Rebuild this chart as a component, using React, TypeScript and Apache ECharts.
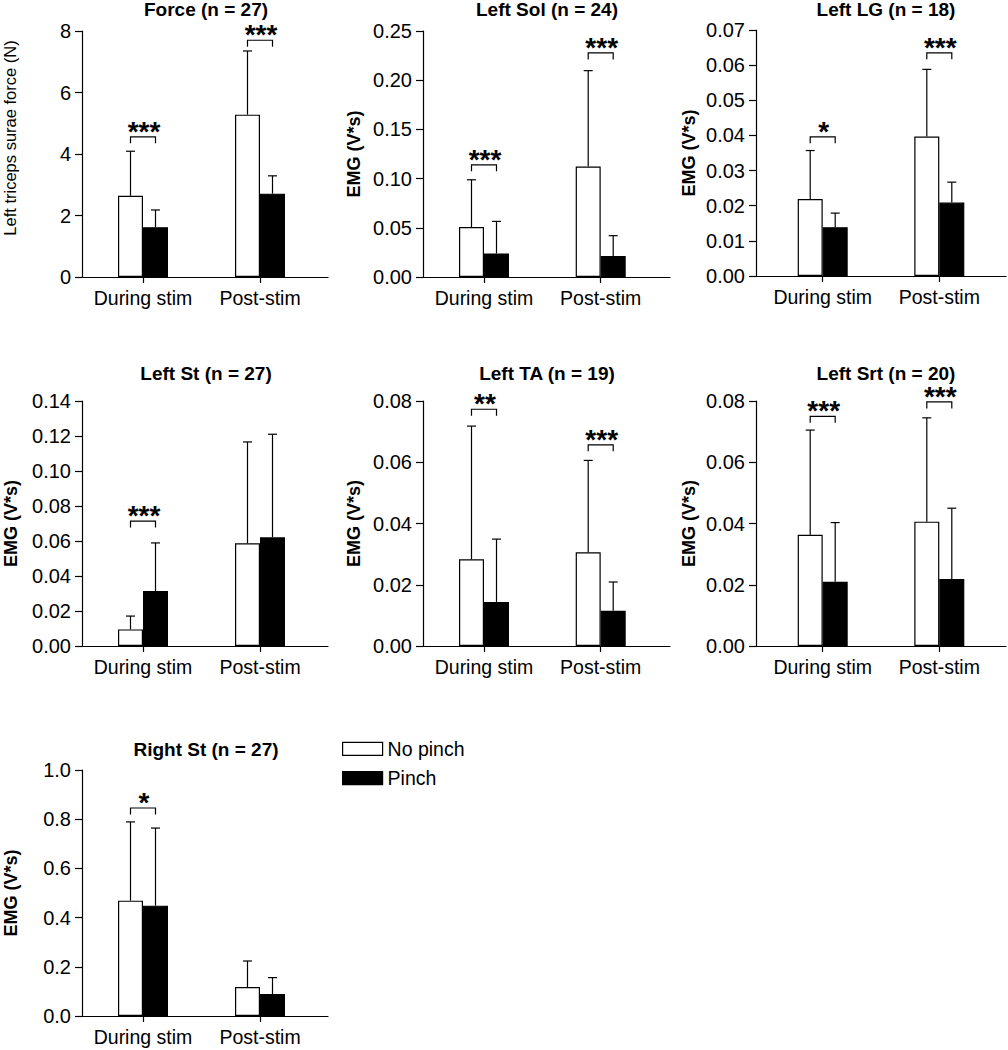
import React, { useEffect, useRef } from "react";
import * as echarts from "echarts";

const categories = ["During stim", "Post-stim"];
const seriesNames = ["No pinch", "Pinch"];

const titles = [
  "Force (n = 27)",
  "Left Sol (n = 24)",
  "Left LG (n = 18)",
  "Left St (n = 27)",
  "Left TA (n = 19)",
  "Left Srt (n = 20)",
  "Right St (n = 27)",
];
const yNames = [
  "Left triceps surae force (N)",
  "EMG (V*s)",
  "EMG (V*s)",
  "EMG (V*s)",
  "EMG (V*s)",
  "EMG (V*s)",
  "EMG (V*s)",
];
const yMax = [8, 0.25, 0.07, 0.14, 0.08, 0.08, 1.0];
const yStep = [2, 0.05, 0.01, 0.02, 0.02, 0.02, 0.2];
const yDecimals = [0, 2, 2, 2, 2, 2, 1];

// means and SD (upper error bar length) for [During stim, Post-stim]
const noPinchMean = [
  [2.64, 5.28],
  [0.0507, 0.1123],
  [0.0219, 0.0397],
  [0.0095, 0.0587],
  [0.0283, 0.0306],
  [0.0363, 0.0406],
  [0.469, 0.118],
];
const noPinchSD = [
  [1.45, 2.07],
  [0.0481, 0.0974],
  [0.0138, 0.0191],
  [0.0076, 0.0579],
  [0.0435, 0.03],
  [0.0342, 0.0339],
  [0.32, 0.1056],
];
const pinchMean = [
  [1.62, 2.71],
  [0.024, 0.0213],
  [0.0139, 0.0209],
  [0.0314, 0.0621],
  [0.0144, 0.0115],
  [0.021, 0.0219],
  [0.4485, 0.0894],
];
const pinchSD = [
  [0.56, 0.58],
  [0.0325, 0.0207],
  [0.004, 0.0058],
  [0.0275, 0.0589],
  [0.0205, 0.0094],
  [0.0193, 0.0231],
  [0.3155, 0.0666],
];
// significance bracket heights and labels
const sigLevel = [
  [4.56, 7.7],
  [0.114, 0.2277],
  [0.0396, 0.0635],
  [0.0714, null],
  [0.0773, 0.0657],
  [0.075, 0.0797],
  [0.8455, null],
];
const sigStars = [
  ["***", "***"],
  ["***", "***"],
  ["*", "***"],
  ["***", ""],
  ["**", "***"],
  ["***", "***"],
  ["*", ""],
];

// layout (pixels)
const layout = [
  { axisX: 82, c1: 143, c2: 260, endX: 328, top: 31, bottom: 277, gap: 64, shift: 32, tx: 206, ty: 9.5 },
  { axisX: 423, c1: 484, c2: 600.7, endX: 670, top: 31, bottom: 277, gap: 60, shift: 0, tx: 547, ty: 9.5 },
  { axisX: 756, c1: 822.7, c2: 939.3, endX: 1006, top: 30, bottom: 276, gap: 58, shift: 0, tx: 886, ty: 9.5 },
  { axisX: 82, c1: 143, c2: 260, endX: 328, top: 401, bottom: 646, gap: 62.5, shift: 0, tx: 206, ty: 373.5 },
  { axisX: 423, c1: 484, c2: 600.7, endX: 670, top: 401, bottom: 646, gap: 60, shift: 0, tx: 547, ty: 373.5 },
  { axisX: 756, c1: 822.7, c2: 939.3, endX: 1006, top: 401, bottom: 646, gap: 58.5, shift: 0, tx: 886, ty: 373.5 },
  { axisX: 82, c1: 143, c2: 260, endX: 328, top: 770, bottom: 1016, gap: 62.5, shift: 0, tx: 206, ty: 749 },
];

const FONT = "'Liberation Sans', Arial, Helvetica, sans-serif";
const BAR_W = 25;
const LW = 1.2;
const INK = "#000";

function buildOption() {
  const grid: any[] = [];
  const xAxis: any[] = [];
  const yAxis: any[] = [];
  const series: any[] = [];
  const title: any[] = [];

  layout.forEach((L, i) => {
    const band = L.c2 - L.c1;
    const gA = grid.length;
    grid.push({ left: L.axisX, top: L.top, width: L.endX - L.axisX, height: L.bottom - L.top });
    const gB = grid.length;
    grid.push({ left: L.c1 - band / 2, top: L.top, width: band * 2, height: L.bottom - L.top });

    const dec = yDecimals[i];
    const isForce = i === 0;
    // outer frame axes
    xAxis.push({
      gridIndex: gA,
      type: "category",
      data: categories,
      axisLine: { show: true, lineStyle: { color: INK, width: LW } },
      axisTick: { show: false },
      axisLabel: { show: false },
      splitLine: { show: false },
    });
    yAxis.push({
      gridIndex: gA,
      type: "value",
      min: 0,
      max: yMax[i],
      interval: yStep[i],
      name: yNames[i],
      nameLocation: "middle",
      nameGap: L.gap,
      nameTextStyle: {
        fontFamily: FONT,
        fontSize: isForce ? 16.5 : 18,
        fontWeight: isForce ? "normal" : "bold",
        color: INK,
        padding: [0, 0, 0, L.shift],
      },
      axisLine: { show: true, lineStyle: { color: INK, width: LW } },
      axisTick: { show: true, length: 7, lineStyle: { color: INK, width: LW } },
      axisLabel: {
        fontFamily: FONT,
        fontSize: 20,
        color: INK,
        margin: 11,
        formatter: (v: number) => v.toFixed(dec),
      },
      splitLine: { show: false },
    });
    // inner data axes
    xAxis.push({
      gridIndex: gB,
      type: "category",
      data: categories,
      axisLine: { show: false },
      axisTick: { show: true, interval: 0, alignWithLabel: true, length: 6, lineStyle: { color: INK, width: LW } },
      axisLabel: { interval: 0, fontFamily: FONT, fontSize: 19.5, color: INK, margin: 11 },
      splitLine: { show: false },
    });
    yAxis.push({
      gridIndex: gB,
      type: "value",
      min: 0,
      max: yMax[i],
      show: false,
      splitLine: { show: false },
    });

    const xi = gB;
    const yi = gB;
    series.push({
      name: seriesNames[0],
      type: "bar",
      xAxisIndex: xi,
      yAxisIndex: yi,
      barWidth: BAR_W,
      barGap: "0%",
      itemStyle: { color: "#fff", borderColor: INK, borderWidth: LW },
      data: noPinchMean[i],
    });
    series.push({
      name: seriesNames[1],
      type: "bar",
      xAxisIndex: xi,
      yAxisIndex: yi,
      barWidth: BAR_W,
      barGap: "0%",
      itemStyle: { color: INK, borderColor: INK, borderWidth: LW },
      data: pinchMean[i],
    });

    const errSeries = (means: number[], sds: number[], offset: number) => ({
      type: "custom",
      xAxisIndex: xi,
      yAxisIndex: yi,
      silent: true,
      z: 5,
      data: means.map((m, k) => [k, m, sds[k]]),
      encode: { x: 0, y: 1 },
      renderItem: (params: any, api: any) => {
        const cat = api.value(0);
        const mean = api.value(1);
        const sd = api.value(2);
        const base = api.coord([cat, mean]);
        const top = api.coord([cat, mean + sd]);
        const x = base[0] + offset;
        const st = { stroke: INK, lineWidth: LW };
        return {
          type: "group",
          children: [
            { type: "line", shape: { x1: x, y1: base[1], x2: x, y2: top[1] }, style: st },
            { type: "line", shape: { x1: x - 4.5, y1: top[1], x2: x + 4.5, y2: top[1] }, style: st },
          ],
        };
      },
    });
    series.push(errSeries(noPinchMean[i], noPinchSD[i], -BAR_W / 2));
    series.push(errSeries(pinchMean[i], pinchSD[i], BAR_W / 2));

    const sigData: any[] = [];
    const sigText: string[] = [];
    sigLevel[i].forEach((lv, k) => {
      if (lv !== null && sigStars[i][k]) {
        sigData.push([k, lv]);
        sigText.push(sigStars[i][k]);
      }
    });
    series.push({
      type: "custom",
      xAxisIndex: xi,
      yAxisIndex: yi,
      silent: true,
      z: 6,
      data: sigData,
      encode: { x: 0, y: 1 },
      renderItem: (params: any, api: any) => {
        const p = api.coord([api.value(0), api.value(1)]);
        const x1 = p[0] - BAR_W / 2;
        const x2 = p[0] + BAR_W / 2;
        const y = p[1];
        const st = { stroke: INK, lineWidth: LW, fill: "none" };
        return {
          type: "group",
          children: [
            { type: "polyline", shape: { points: [[x1, y + 6.5], [x1, y], [x2, y], [x2, y + 6.5]] }, style: st },
            {
              type: "text",
              x: p[0] + 1,
              y: y - 5.5,
              style: {
                text: sigText[params.dataIndex],
                textAlign: "center",
                textVerticalAlign: "middle",
                font: `bold 28px ${FONT}`,
                lineHeight: 12,
                fill: INK,
              },
            },
          ],
        };
      },
    });

    title.push({
      text: titles[i],
      left: L.tx,
      top: L.ty - 10,
      textAlign: "center",
      padding: 0,
      textStyle: { fontFamily: FONT, fontSize: 19, fontWeight: "bold", color: INK, lineHeight: 20 },
    });
  });

  return {
    animation: false,
    backgroundColor: "#fff",
    title,
    grid,
    xAxis,
    yAxis,
    series,
    legend: {
      data: seriesNames,
      orient: "vertical",
      left: 342,
      top: 738.8,
      padding: 0,
      itemWidth: 40,
      itemHeight: 13,
      itemGap: 9.4,
      icon: "rect",
      itemStyle: { borderColor: INK, borderWidth: LW },
      textStyle: { fontFamily: FONT, fontSize: 19.5, color: INK, lineHeight: 20 },
      selectedMode: false,
    },
  };
}

export default function App() {
  const ref = useRef<HTMLDivElement>(null);
  useEffect(() => {
    document.body.style.margin = "0";
    if (!ref.current) return;
    const chart = echarts.init(ref.current, undefined, { renderer: "svg" });
    chart.setOption(buildOption() as any);
    return () => chart.dispose();
  }, []);
  return <div ref={ref} style={{ width: 1008, height: 1050 }} />;
}
